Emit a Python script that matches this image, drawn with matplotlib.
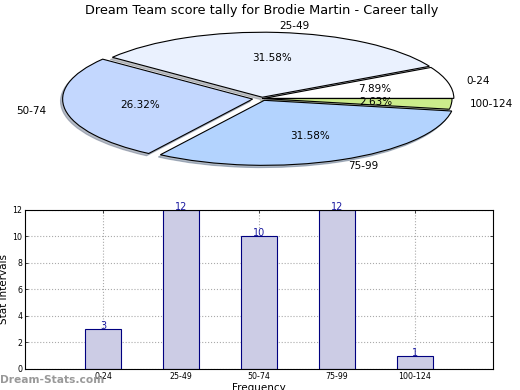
import numpy as np
import matplotlib
matplotlib.use("Agg")
import matplotlib.pyplot as plt

# ================= data =================
categories = ["0-24", "25-49", "50-74", "75-99", "100-124"]
counts = [3, 12, 10, 12, 1]
pie_colors = ["#ffffff", "#eaf1fe", "#c3d7fe", "#b3d3fe", "#ccec8c"]
explode = [0.01, 0.02, 0.05, 0.03, 0.0]
yticks = [0, 2, 4, 6, 8, 10, 12]
# =========================================

fig = plt.figure(figsize=(5.2, 3.9), dpi=100)

# pie on top, squashed (aspect auto like the old matplotlib)
ax1 = fig.add_axes([0.0471, 0.539, 0.9135, 0.4167])
wedges, texts, autotexts = ax1.pie(
    counts, labels=categories, colors=pie_colors, explode=explode,
    autopct="%1.2f%%", startangle=0,
    shadow=dict(ox=-0.008, oy=-0.025, shade=0.45),
    wedgeprops=dict(edgecolor="black", linewidth=0.8),
    textprops=dict(fontsize=7.5))
ax1.set_aspect("auto")
ax1.set_xlim(-1.25, 1.25)
ax1.set_ylim(-1.25, 1.25)
ax1.set_title("Dream Team score tally for Brodie Martin - Career tally",
              fontsize=9.3, pad=2)

# bar chart below
ax2 = fig.add_axes([0.048, 0.054, 0.9, 0.408])
x = np.arange(len(categories))
bars = ax2.bar(x, counts, width=0.46, color="#ccccE5", edgecolor="#000080",
               linewidth=0.8)
for xi, c in zip(x, counts):
    ax2.text(xi, c - 0.15, str(c), ha="center", va="bottom", color="#1a1aa0",
             fontsize=7, zorder=5)
ax2.set_xlim(-1, 5)
ax2.set_ylim(0, 12)
ax2.set_xticks(x)
ax2.set_xticklabels(categories, fontsize=5.7)
ax2.set_yticks(yticks)
ax2.set_yticklabels([str(v) for v in yticks], fontsize=5.7)
ax2.tick_params(direction="in", length=2, width=0.5, pad=2,
                top=True, right=True)
ax2.grid(True, linestyle=":", color="#aaaaaa", linewidth=0.8)
ax2.set_axisbelow(True)
ax2.set_ylabel("Stat Intervals", fontsize=7.5, labelpad=2)
ax2.set_xlabel("Frequency", fontsize=7.5, labelpad=2)
for s in ax2.spines.values():
    s.set_linewidth(0.8)

fig.text(0.0, 0.025, "Dream-Stats.com", fontsize=7.7, color="#999999",
         fontweight="bold", ha="left", va="center")

fig.savefig("out.png", dpi=100)
